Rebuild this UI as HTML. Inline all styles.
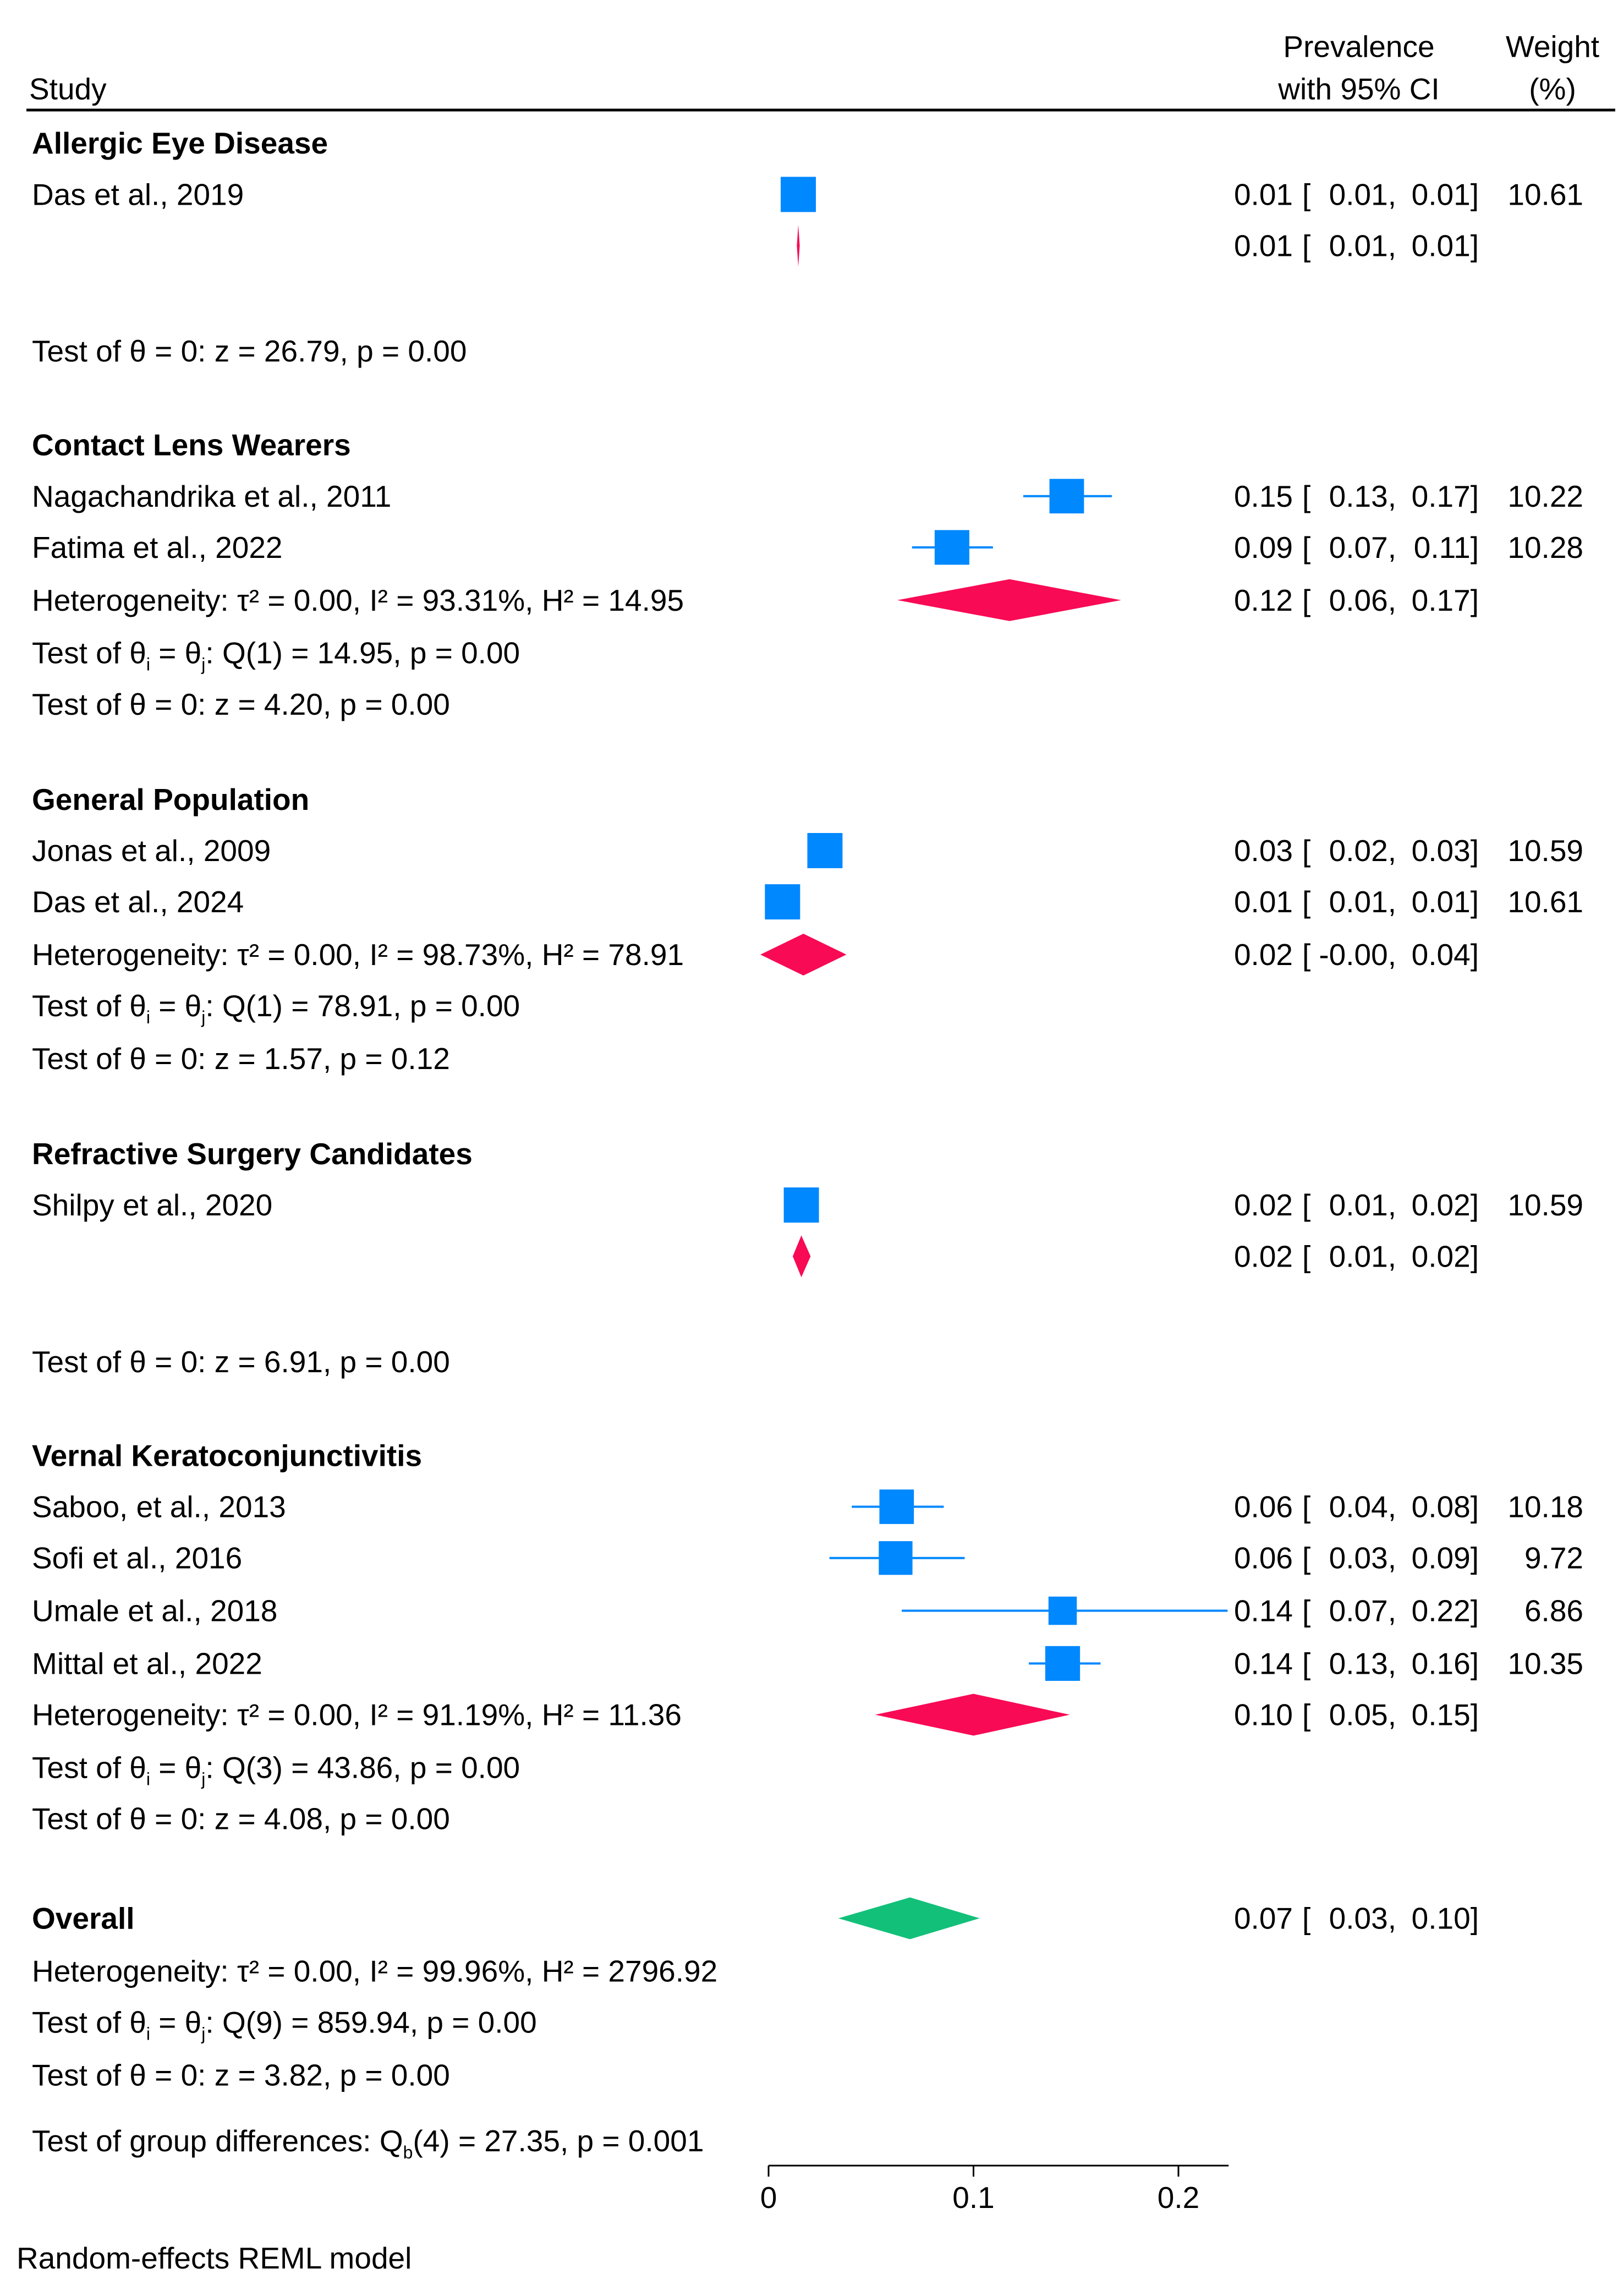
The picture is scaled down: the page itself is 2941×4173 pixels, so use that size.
<!DOCTYPE html>
<html><head><meta charset="utf-8"><title>Forest plot</title>
<style>
html,body{margin:0;padding:0;background:#fff;}
svg{display:block;}
text{font-family:"Liberation Sans",Arial,sans-serif;font-size:55px;fill:#000;}
.b{font-weight:bold;}
</style></head>
<body>
<svg id="chart" width="2941" height="4173" viewBox="0 0 2941 4173" xmlns="http://www.w3.org/2000/svg"></svg>
<script>
// ---- data ----
const studyLabels = ["Das et al., 2019","Nagachandrika et al., 2011","Fatima et al., 2022","Jonas et al., 2009","Das et al., 2024","Shilpy et al., 2020","Saboo, et al., 2013","Sofi et al., 2016","Umale et al., 2018","Mittal et al., 2022"];
const studyEst = [0.0145,0.1455,0.0895,0.0275,0.0068,0.0160,0.0625,0.0620,0.1435,0.1435];
const studyLo  = [0.0138,0.1243,0.0700,0.023,0.0062,0.0115,0.0406,0.0297,0.065,0.127];
const studyHi  = [0.0152,0.1675,0.1095,0.033,0.0075,0.0210,0.0855,0.0957,0.224,0.162];
const studyWeights = [10.61,10.22,10.28,10.59,10.61,10.59,10.18,9.72,6.86,10.35];
const studyEstText = ["0.01","0.15","0.09","0.03","0.01","0.02","0.06","0.06","0.14","0.14"];
const studyLoText  = ["0.01","0.13","0.07","0.02","0.01","0.01","0.04","0.03","0.07","0.13"];
const studyHiText  = ["0.01","0.17","0.11","0.03","0.01","0.02","0.08","0.09","0.22","0.16"];
const weightText = ["10.61","10.22","10.28","10.59","10.61","10.59","10.18","9.72","6.86","10.35"];
const groupNames = ["Allergic Eye Disease","Contact Lens Wearers","General Population","Refractive Surgery Candidates","Vernal Keratoconjunctivitis","Overall"];
const groupEst = [0.0145,0.1176,0.0170,0.0160,0.1000,0.0690];
const groupLo  = [0.0138,0.0628,-0.004,0.0118,0.052,0.034];
const groupHi  = [0.0152,0.172,0.038,0.0205,0.147,0.103];
const groupEstText = ["0.01","0.12","0.02","0.02","0.10","0.07"];
const groupLoText  = ["0.01","0.06","-0.00","0.01","0.05","0.03"];
const groupHiText  = ["0.01","0.17","0.04","0.02","0.15","0.10"];
const tickValues = [0,0.1,0.2];
const tickLabels = ["0","0.1","0.2"];
const axisMin = 0, axisMax = 0.2245;

// ---- layout (display rows) ----
const S = 2.662;
const studyRowY = [132,338,373,580,615,822,1028,1063,1099,1135];
const groupRowY = [167,409,651,857,1170,1309];

const svg = document.getElementById('chart');
const NS = "http://www.w3.org/2000/svg";
function xs(v){ return 1397 + (v-axisMin)*3725; }
function ys(d){ return d*S + 2; }
function el(tag, attrs, parent){
  const e = document.createElementNS(NS, tag);
  for (const k in attrs) e.setAttribute(k, attrs[k]);
  (parent||svg).appendChild(e);
  return e;
}
function txt(s, x, yd, anchor, cls){
  const t = el('text', {x:x, y:ys(yd)+19, 'text-anchor':anchor||'start'});
  if (cls) t.setAttribute('class', cls);
  t.setAttribute('xml:space','preserve');
  t.textContent = s;
  return t;
}
function rich(parts, x, yd){
  const t = el('text', {x:x, y:ys(yd)+19});
  parts.forEach(p=>{
    const ts = document.createElementNS(NS,'tspan');
    ts.textContent = p[0];
    if (p[1]==='sub'){ ts.setAttribute('font-size','32'); ts.setAttribute('dy','13'); }
    if (p[1]==='back'){ ts.setAttribute('dy','-13'); }
    t.appendChild(ts);
  });
  return t;
}
function ciText(est, lo, hi, yd){
  const a = txt(est, 2350, yd, 'end');
  
  
  const b = txt("[", 2367, yd, 'start');
  
  
  const c = txt(lo + ",", 2538, yd, 'end');
  
  
  const d = txt(hi + "]", 2688, yd, 'end');
  
  
}

// header
let h;
h = txt("Study", 53, 60);  
h = txt("Prevalence", 2470, 31, 'middle');  
h = txt("with 95% CI", 2470, 60, 'middle');  
h = txt("Weight", 2822, 31, 'middle');  
h = txt("(%)", 2822, 60, 'middle');  
h = el('line',{x1:48,x2:2936,y1:200,y2:200,stroke:'#000','stroke-width':5});
 

// group labels
groupNames.forEach((g,i)=>{
  const yd = [97,303,545,787,993,1309][i];
  const t = txt(g, 58, yd, 'start', 'b');
  
  
});

// studies
studyLabels.forEach((s,i)=>{
  const yd = studyRowY[i], y = ys(yd);
  const t = txt(s, 58, yd);
  
  
  const ci = el('line',{x1:xs(studyLo[i]),x2:xs(studyHi[i]),y1:y,y2:y,stroke:'#0088ff','stroke-width':4});
  
  
  const side = 64*Math.sqrt(studyWeights[i]/10.61);
  const r = el('rect',{x:xs(studyEst[i])-side/2,y:y-side/2,width:side,height:side,fill:'#0088ff'});
  
  
  ciText(studyEstText[i], studyLoText[i], studyHiText[i], yd);
  const w = txt(weightText[i], 2878, yd, 'end');
  
  
});

// diamonds
groupEst.forEach((e,i)=>{
  const y = ys(groupRowY[i]);
  const hh = 38;
  const pts = [[xs(groupLo[i]),y],[xs(e),y-hh],[xs(groupHi[i]),y],[xs(e),y+hh]].map(p=>p.join(',')).join(' ');
  const d = el('polygon',{points:pts, fill: i===5 ? '#12c07a' : '#f80a55'});
  
  
  ciText(groupEstText[i], groupLoText[i], groupHiText[i], groupRowY[i]);
});

// stats lines
const statLines = [
  [[["Test of θ = 0: z = 26.79, p = 0.00"]],239],
  [[["Heterogeneity: τ² = 0.00, I² = 93.31%, H² = 14.95"]],409],
  [[["Test of θ"],["i","sub"],[" = θ","back"],["j","sub"],[": Q(1) = 14.95, p = 0.00","back"]],445],
  [[["Test of θ = 0: z = 4.20, p = 0.00"]],480],
  [[["Heterogeneity: τ² = 0.00, I² = 98.73%, H² = 78.91"]],651],
  [[["Test of θ"],["i","sub"],[" = θ","back"],["j","sub"],[": Q(1) = 78.91, p = 0.00","back"]],686],
  [[["Test of θ = 0: z = 1.57, p = 0.12"]],722],
  [[["Test of θ = 0: z = 6.91, p = 0.00"]],929],
  [[["Heterogeneity: τ² = 0.00, I² = 91.19%, H² = 11.36"]],1170],
  [[["Test of θ"],["i","sub"],[" = θ","back"],["j","sub"],[": Q(3) = 43.86, p = 0.00","back"]],1206],
  [[["Test of θ = 0: z = 4.08, p = 0.00"]],1241],
  [[["Heterogeneity: τ² = 0.00, I² = 99.96%, H² = 2796.92"]],1345],
  [[["Test of θ"],["i","sub"],[" = θ","back"],["j","sub"],[": Q(9) = 859.94, p = 0.00","back"]],1380],
  [[["Test of θ = 0: z = 3.82, p = 0.00"]],1416],
  [[["Test of group differences: Q"],["b","sub"],["(4) = 27.35, p = 0.001","back"]],1461]
];
statLines.forEach(l=>{
  const t = rich(l[0], 58, l[1]);
  
  
});

// axis
const ay = 3936;
const ax = el('line',{x1:xs(axisMin),x2:xs(axisMax),y1:ay,y2:ay,stroke:'#000','stroke-width':3});


tickValues.forEach((v,i)=>{
  const tk = el('line',{x1:xs(v),x2:xs(v),y1:ay,y2:ay+20,stroke:'#000','stroke-width':3});
  
  
  const t = el('text',{x:xs(v),y:4013,'text-anchor':'middle'});
  t.textContent = tickLabels[i];
  
  
});

h = txt("Random-effects REML model", 30, 1541);


</script>
</body></html>
